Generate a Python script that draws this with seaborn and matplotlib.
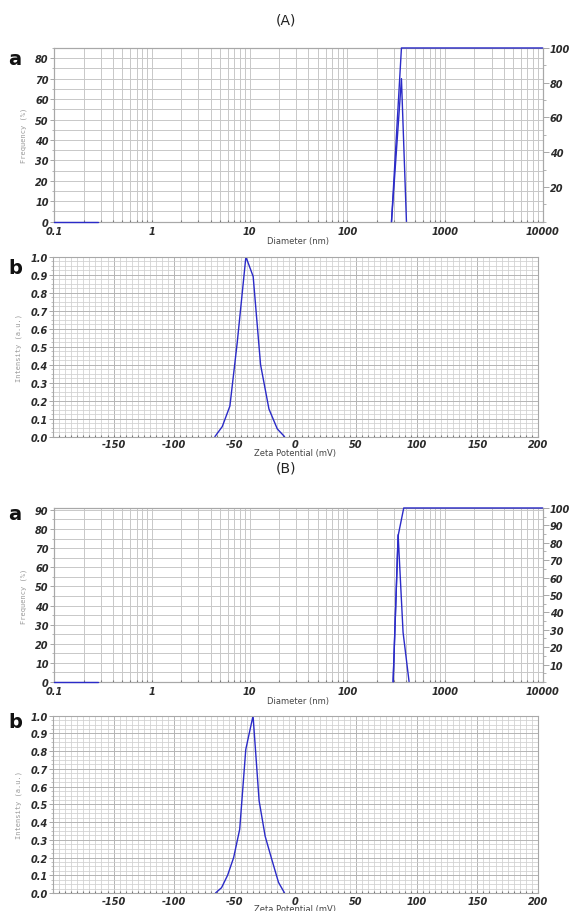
import seaborn as sns
import matplotlib.pyplot as plt
from matplotlib.ticker import MultipleLocator, LogLocator, NullFormatter

sns.set_style("white")
plt.rcParams['font.family'] = ['DejaVu Sans']
plt.rcParams['axes.unicode_minus'] = False

# ---- data ----
# (A) size distribution
a_size_nm = [284, 359, 404]
a_freq = [0, 70, 0]
a_cum_nm = [284, 359, 10000]
a_cum = [0, 100, 100]

# (A) zeta potential
a_zeta_mv = [-66.5, -60.4, -54.1, -48.1, -40.9, -34.9, -28.8, -21.9, -15.0, -9.0]
a_zeta_int = [0, 0.056, 0.17, 0.52, 1.0, 0.89, 0.40, 0.154, 0.043, 0]

# (B) size distribution
b_size_nm = [295, 332, 373, 430]
b_freq = [0, 77, 26, 0]
b_cum_nm = [295, 332, 379, 10000]
b_cum = [0, 84, 100, 100]

# (B) zeta potential
b_zeta_mv = [-66, -61, -56, -51, -46, -41, -35, -30, -25, -20, -14, -9]
b_zeta_int = [0, 0.03, 0.1, 0.2, 0.36, 0.81, 1.0, 0.52, 0.32, 0.2, 0.06, 0]

# short baseline at 0 on the far left of the size plots
base_nm = [0.1, 0.28]
base_val = [0, 0]

size_ticks = [0.1, 1, 10, 100, 1000, 10000]
size_ticklabels = ['0.1', '1', '10', '100', '1000', '10000']
zeta_ticks = [-150, -100, -50, 0, 50, 100, 150, 200]

blue = '#2b2bc8'
gridc = '#c8c8c8'
spinec = '#a8a8a8'
tickcolor = '#2a2a2a'


def style_ticks(ax):
    for lab in ax.get_xticklabels() + ax.get_yticklabels():
        lab.set_fontsize(7)
        lab.set_fontweight('bold')
        lab.set_fontstyle('italic')
        lab.set_color(tickcolor)
    for s in ax.spines.values():
        s.set_color(spinec)
        s.set_linewidth(0.8)


def size_panel(rect, xs, ys, cx, cy, ymax, right_step):
    ax = fig.add_axes(rect)
    ax.set_xscale('log')
    sns.lineplot(x=xs, y=ys, ax=ax, color=blue, lw=1.0, estimator=None, sort=False)
    ax.set_xlim(0.1, 10000)
    ax.set_ylim(0, ymax)
    ax.set_xticks(size_ticks)
    ax.set_xticklabels(size_ticklabels)
    ax.xaxis.set_minor_locator(LogLocator(base=10, subs=range(2, 10)))
    ax.xaxis.set_minor_formatter(NullFormatter())
    ax.yaxis.set_major_locator(MultipleLocator(10))
    ax.yaxis.set_minor_locator(MultipleLocator(5))
    ax.grid(which='both', color=gridc, lw=0.7)
    ax.tick_params(axis='y', which='major', length=3, width=0.7, color=spinec, pad=1, left=True)
    ax.tick_params(axis='y', which='minor', length=1.5, width=0.6, color=spinec, left=True)
    ax.tick_params(axis='x', which='both', length=1.5, width=0.8, color='#777777', direction='in', pad=3, bottom=True)
    ax.set_ylabel('Frequency (%)', fontsize=5, family='DejaVu Sans Mono', color='#999999', labelpad=6)
    ax.set_xlabel('Diameter (nm)', fontsize=6, color='#444444', labelpad=0)
    style_ticks(ax)

    ax2 = ax.twinx()
    sns.lineplot(x=base_nm, y=base_val, ax=ax2, color=blue, lw=1.0, estimator=None, sort=False,
                 clip_on=False, zorder=5)
    sns.lineplot(x=cx, y=cy, ax=ax2, color=blue, lw=1.0, estimator=None, sort=False,
                 clip_on=False, zorder=5)
    ax2.set_ylim(0, 100)
    ax2.yaxis.set_major_locator(MultipleLocator(right_step))
    ax2.yaxis.set_minor_locator(MultipleLocator(right_step / 2))
    ax2.set_yticks([t for t in ax2.get_yticks() if 0 < t <= 100])
    ax2.grid(False)
    ax2.set_ylabel('')
    ax2.tick_params(axis='y', which='major', length=4, width=0.7, color=spinec, pad=1, right=True)
    ax2.tick_params(axis='y', which='minor', length=2, width=0.6, color=spinec, right=True)
    style_ticks(ax2)
    return ax


def zeta_panel(rect, xs, ys):
    ax = fig.add_axes(rect)
    sns.lineplot(x=xs, y=ys, ax=ax, color=blue, lw=1.0, estimator=None, sort=False)
    ax.set_xlim(-200, 200)
    ax.set_ylim(0, 1.0)
    ax.set_xticks(zeta_ticks)
    ax.xaxis.set_minor_locator(MultipleLocator(5))
    ax.yaxis.set_major_locator(MultipleLocator(0.1))
    ax.yaxis.set_minor_locator(MultipleLocator(0.025))
    ax.set_yticklabels(['%.1f' % t for t in ax.get_yticks()])
    ax.grid(which='major', color='#b4b4b4', lw=0.7)
    ax.grid(which='minor', color='#d0d0d0', lw=0.55)
    ax.tick_params(axis='y', which='major', length=3, width=0.7, color=spinec, pad=1, left=True)
    ax.tick_params(axis='y', which='minor', length=1.2, width=0.5, color=spinec, left=True)
    ax.tick_params(axis='x', which='both', length=1.5, width=0.8, color='#777777', direction='in', pad=2, bottom=True)
    ax.set_ylabel('Intensity (a.u.)', fontsize=5, family='DejaVu Sans Mono', color='#999999', labelpad=6)
    ax.set_xlabel('Zeta Potential (mV)', fontsize=6, color='#444444', labelpad=-1)
    style_ticks(ax)
    return ax


fig = plt.figure(figsize=(5.76, 9.12), dpi=100)

size_panel([0.094, 0.7558, 0.848, 0.1905], a_size_nm, a_freq, a_cum_nm, a_cum, 85, 20)
zeta_panel([0.092, 0.5201, 0.842, 0.1973], a_zeta_mv, a_zeta_int)
size_panel([0.094, 0.2511, 0.848, 0.1908], b_size_nm, b_freq, b_cum_nm, b_cum, 91, 10)
zeta_panel([0.092, 0.0197, 0.842, 0.1944], b_zeta_mv, b_zeta_int)

fig.text(0.497, 0.978, '(A)', ha='center', va='center', fontsize=10, color='#222222')
fig.text(0.497, 0.486, '(B)', ha='center', va='center', fontsize=10, color='#222222')
for y, s in [(0.935, 'a'), (0.706, 'b'), (0.436, 'a'), (0.208, 'b')]:
    fig.text(0.026, y, s, ha='center', va='center', fontsize=14, fontweight='bold', color='#111111')

fig.savefig('out.png', dpi=100)
